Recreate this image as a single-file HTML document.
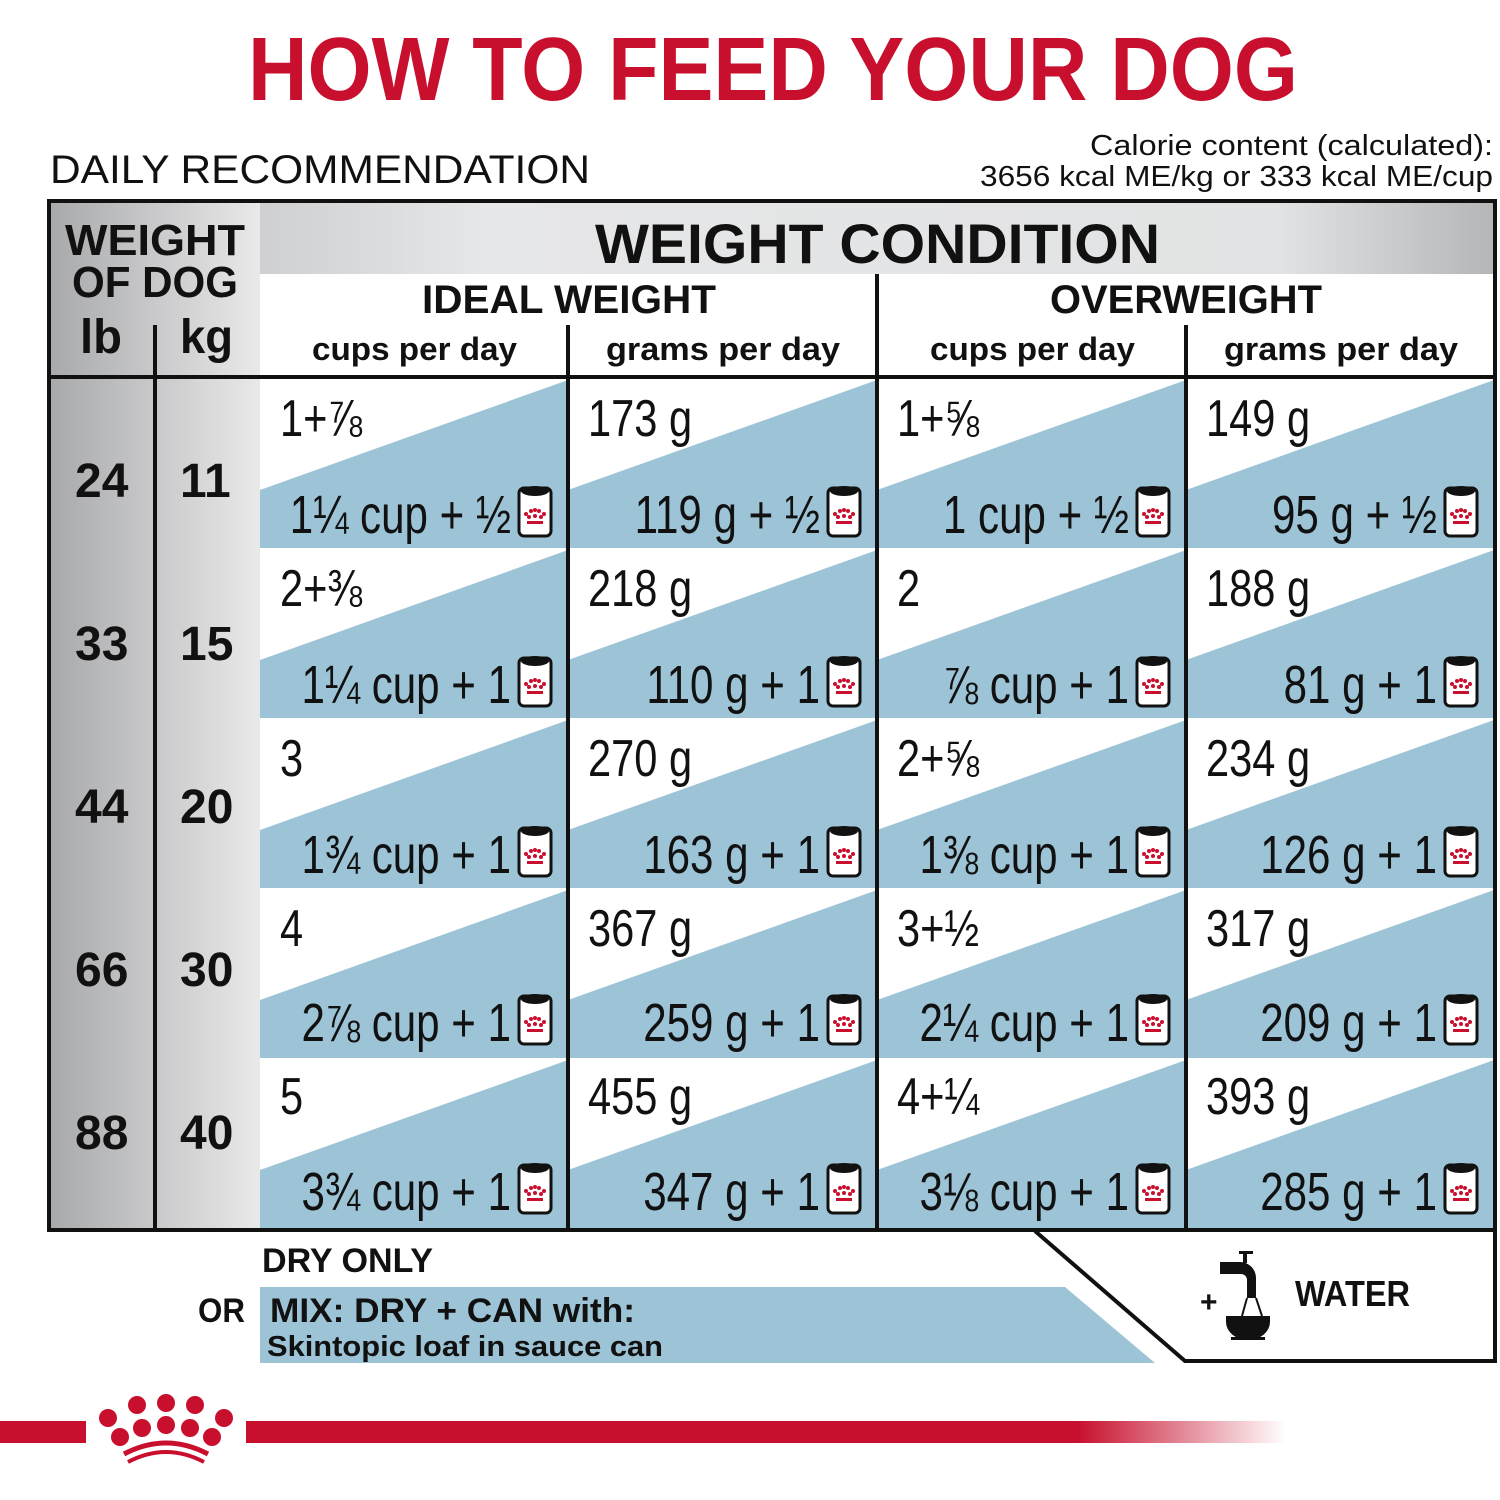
<!DOCTYPE html>
<html><head><meta charset="utf-8"><style>
html,body{margin:0;padding:0;background:#fff}
svg{display:block}
text{font-family:"Liberation Sans","DejaVu Sans",sans-serif}
.b{font-weight:bold}
.c{font-size:54px;fill:#111}
.t{font-size:52px;fill:#111}
</style></head><body>
<svg width="1500" height="1500" viewBox="0 0 1500 1500" xmlns="http://www.w3.org/2000/svg">
<defs>
<linearGradient id="hg" x1="0" x2="1" y1="0" y2="0">
<stop offset="0" stop-color="#b8b9bb"/><stop offset="0.3" stop-color="#e6e7e8"/><stop offset="0.85" stop-color="#e2e3e4"/><stop offset="1" stop-color="#b5b6b8"/></linearGradient>
<linearGradient id="lg" x1="0" x2="1" y1="0" y2="0">
<stop offset="0" stop-color="#a8a9ab"/><stop offset="1" stop-color="#e9e9ea"/></linearGradient>
<linearGradient id="rg" x1="0" x2="1" y1="0" y2="0">
<stop offset="0" stop-color="#c8102e"/><stop offset="0.8" stop-color="#c8102e"/><stop offset="1" stop-color="#c8102e" stop-opacity="0"/></linearGradient>
<g id="can">
<rect x="0" y="4" width="32" height="48" rx="5" fill="#fff" stroke="#111" stroke-width="3"/>
<ellipse cx="16" cy="7" rx="14" ry="5" fill="#111"/>
<g fill="#c8102e"><circle cx="7" cy="30" r="2"/><circle cx="12" cy="27" r="2"/><circle cx="16" cy="26" r="2"/><circle cx="20" cy="27" r="2"/><circle cx="25" cy="30" r="2"/><circle cx="10" cy="33" r="2"/><circle cx="16" cy="32" r="2"/><circle cx="22" cy="33" r="2"/><rect x="8" y="37" width="16" height="3"/></g>
</g>
</defs>

<text x="248" y="100" class="b" font-size="90" fill="#c8102e" textLength="1050" lengthAdjust="spacingAndGlyphs">HOW TO FEED YOUR DOG</text>
<text x="50" y="183" font-size="40" fill="#111" textLength="540" lengthAdjust="spacingAndGlyphs">DAILY RECOMMENDATION</text>
<text x="1493" y="155" font-size="29" fill="#111" text-anchor="end" textLength="403" lengthAdjust="spacingAndGlyphs">Calorie content (calculated):</text>
<text x="1493" y="186" font-size="29" fill="#111" text-anchor="end" textLength="513" lengthAdjust="spacingAndGlyphs">3656 kcal ME/kg or 333 kcal ME/cup</text>

<!-- header backgrounds -->
<rect x="50" y="202" width="1444" height="72" fill="url(#hg)"/>
<rect x="50" y="202" width="210" height="1026" fill="url(#lg)"/>
<rect x="260" y="274" width="1234" height="102" fill="#fff"/>

<text x="595" y="263" class="b" font-size="56" fill="#111" textLength="565" lengthAdjust="spacingAndGlyphs">WEIGHT CONDITION</text>
<text x="65" y="255" class="b" font-size="44" fill="#111" textLength="180" lengthAdjust="spacingAndGlyphs">WEIGHT</text>
<text x="72" y="297" class="b" font-size="44" fill="#111" textLength="166" lengthAdjust="spacingAndGlyphs">OF DOG</text>
<text x="80" y="353" class="b" font-size="48" fill="#111" textLength="42" lengthAdjust="spacingAndGlyphs">lb</text>
<text x="180" y="353" class="b" font-size="48" fill="#111" textLength="53" lengthAdjust="spacingAndGlyphs">kg</text>
<text x="422" y="313" class="b" font-size="40" fill="#111" textLength="294" lengthAdjust="spacingAndGlyphs">IDEAL WEIGHT</text>
<text x="1050" y="313" class="b" font-size="40" fill="#111" textLength="272" lengthAdjust="spacingAndGlyphs">OVERWEIGHT</text>
<text x="312" y="360" class="b" font-size="32" fill="#111" textLength="205" lengthAdjust="spacingAndGlyphs">cups per day</text>
<text x="606" y="360" class="b" font-size="32" fill="#111" textLength="234" lengthAdjust="spacingAndGlyphs">grams per day</text>
<text x="930" y="360" class="b" font-size="32" fill="#111" textLength="205" lengthAdjust="spacingAndGlyphs">cups per day</text>
<text x="1224" y="360" class="b" font-size="32" fill="#111" textLength="234" lengthAdjust="spacingAndGlyphs">grams per day</text>

<!-- blue triangles -->
<g fill="#9dc4d6">
<polygon points="260,490 568,380 568,548 260,548"/><polygon points="568,490 877,380 877,548 568,548"/><polygon points="877,490 1186,380 1186,548 877,548"/><polygon points="1186,490 1494,380 1494,548 1186,548"/>
<polygon points="260,660 568,550 568,718 260,718"/><polygon points="568,660 877,550 877,718 568,718"/><polygon points="877,660 1186,550 1186,718 877,718"/><polygon points="1186,660 1494,550 1494,718 1186,718"/>
<polygon points="260,830 568,720 568,888 260,888"/><polygon points="568,830 877,720 877,888 568,888"/><polygon points="877,830 1186,720 1186,888 877,888"/><polygon points="1186,830 1494,720 1494,888 1186,888"/>
<polygon points="260,1000 568,890 568,1058 260,1058"/><polygon points="568,1000 877,890 877,1058 568,1058"/><polygon points="877,1000 1186,890 1186,1058 877,1058"/><polygon points="1186,1000 1494,890 1494,1058 1186,1058"/>
<polygon points="260,1170 568,1060 568,1228 260,1228"/><polygon points="568,1170 877,1060 877,1228 568,1228"/><polygon points="877,1170 1186,1060 1186,1228 877,1228"/><polygon points="1186,1170 1494,1060 1494,1228 1186,1228"/>
</g>

<!-- lines -->
<g stroke="#111" fill="none">
<rect x="49" y="201" width="1446" height="1029" stroke-width="4"/>
<line x1="50" y1="377" x2="1494" y2="377" stroke-width="4"/>
<line x1="155" y1="325" x2="155" y2="1228" stroke-width="4"/>
<line x1="877" y1="274" x2="877" y2="1228" stroke-width="4"/>
<line x1="568" y1="325" x2="568" y2="1228" stroke-width="4"/>
<line x1="1186" y1="325" x2="1186" y2="1228" stroke-width="4"/>
<polyline points="1035,1231 1185,1361 1495,1361 1495,1228" stroke-width="4"/>
</g>

<!-- weights -->
<g class="b" font-size="48" fill="#111">
<text x="75" y="497">24</text><text x="180" y="497">11</text>
<text x="75" y="660">33</text><text x="180" y="660">15</text>
<text x="75" y="823">44</text><text x="180" y="823">20</text>
<text x="75" y="986">66</text><text x="180" y="986">30</text>
<text x="75" y="1149">88</text><text x="180" y="1149">40</text>
</g>

<!-- cell texts -->
<g class="t">
<text transform="translate(280,436) scale(0.8,1)">1+⅞</text>
<text transform="translate(588,436) scale(0.8,1)">173 g</text>
<text transform="translate(897,436) scale(0.8,1)">1+⅝</text>
<text transform="translate(1206,436) scale(0.8,1)">149 g</text>
<text transform="translate(280,606) scale(0.8,1)">2+⅜</text>
<text transform="translate(588,606) scale(0.8,1)">218 g</text>
<text transform="translate(897,606) scale(0.8,1)">2</text>
<text transform="translate(1206,606) scale(0.8,1)">188 g</text>
<text transform="translate(280,776) scale(0.8,1)">3</text>
<text transform="translate(588,776) scale(0.8,1)">270 g</text>
<text transform="translate(897,776) scale(0.8,1)">2+⅝</text>
<text transform="translate(1206,776) scale(0.8,1)">234 g</text>
<text transform="translate(280,946) scale(0.8,1)">4</text>
<text transform="translate(588,946) scale(0.8,1)">367 g</text>
<text transform="translate(897,946) scale(0.8,1)">3+½</text>
<text transform="translate(1206,946) scale(0.8,1)">317 g</text>
<text transform="translate(280,1114) scale(0.8,1)">5</text>
<text transform="translate(588,1114) scale(0.8,1)">455 g</text>
<text transform="translate(897,1114) scale(0.8,1)">4+¼</text>
<text transform="translate(1206,1114) scale(0.8,1)">393 g</text>
</g>
<g class="c" text-anchor="end">
<text transform="translate(511,533) scale(0.78,1)">1¼ cup + ½</text>
<text transform="translate(820,533) scale(0.78,1)">119 g + ½</text>
<text transform="translate(1129,533) scale(0.78,1)">1 cup + ½</text>
<text transform="translate(1437,533) scale(0.78,1)">95 g + ½</text>
<text transform="translate(511,703) scale(0.78,1)">1¼ cup + 1</text>
<text transform="translate(820,703) scale(0.78,1)">110 g + 1</text>
<text transform="translate(1129,703) scale(0.78,1)">⅞ cup + 1</text>
<text transform="translate(1437,703) scale(0.78,1)">81 g + 1</text>
<text transform="translate(511,873) scale(0.78,1)">1¾ cup + 1</text>
<text transform="translate(820,873) scale(0.78,1)">163 g + 1</text>
<text transform="translate(1129,873) scale(0.78,1)">1⅜ cup + 1</text>
<text transform="translate(1437,873) scale(0.78,1)">126 g + 1</text>
<text transform="translate(511,1041) scale(0.78,1)">2⅞ cup + 1</text>
<text transform="translate(820,1041) scale(0.78,1)">259 g + 1</text>
<text transform="translate(1129,1041) scale(0.78,1)">2¼ cup + 1</text>
<text transform="translate(1437,1041) scale(0.78,1)">209 g + 1</text>
<text transform="translate(511,1210) scale(0.78,1)">3¾ cup + 1</text>
<text transform="translate(820,1210) scale(0.78,1)">347 g + 1</text>
<text transform="translate(1129,1210) scale(0.78,1)">3⅛ cup + 1</text>
<text transform="translate(1437,1210) scale(0.78,1)">285 g + 1</text>
</g>
<g>
<use href="#can" x="519" y="484"/><use href="#can" x="828" y="484"/><use href="#can" x="1137" y="484"/><use href="#can" x="1445" y="484"/>
<use href="#can" x="519" y="654"/><use href="#can" x="828" y="654"/><use href="#can" x="1137" y="654"/><use href="#can" x="1445" y="654"/>
<use href="#can" x="519" y="824"/><use href="#can" x="828" y="824"/><use href="#can" x="1137" y="824"/><use href="#can" x="1445" y="824"/>
<use href="#can" x="519" y="992"/><use href="#can" x="828" y="992"/><use href="#can" x="1137" y="992"/><use href="#can" x="1445" y="992"/>
<use href="#can" x="519" y="1161"/><use href="#can" x="828" y="1161"/><use href="#can" x="1137" y="1161"/><use href="#can" x="1445" y="1161"/>
</g>

<!-- bottom -->
<polygon points="260,1287 1065,1287 1155,1363 260,1363" fill="#9dc4d6"/>
<text x="262" y="1272" class="b" font-size="34" fill="#111" textLength="171" lengthAdjust="spacingAndGlyphs">DRY ONLY</text>
<text x="198" y="1322" class="b" font-size="34" fill="#111" textLength="47" lengthAdjust="spacingAndGlyphs">OR</text>
<text x="270" y="1322" class="b" font-size="34" fill="#111" textLength="365" lengthAdjust="spacingAndGlyphs">MIX: DRY + CAN with:</text>
<text x="267" y="1356" class="b" font-size="29" fill="#111" textLength="396" lengthAdjust="spacingAndGlyphs">Skintopic loaf in sauce can</text>
<text x="1200" y="1312" class="b" font-size="30" fill="#111">+</text>
<g fill="#111">
<rect x="1239" y="1251" width="14" height="3"/><rect x="1243" y="1253" width="4" height="10"/>
<path d="M1220 1262 h20 a16 16 0 0 1 16 16 v20 h-9 v-18 a6 6 0 0 0 -6 -6 h-21 z"/>
<path d="M1226 1316 h44 v6 a22 18 0 0 1 -44 0 z"/>
<rect x="1231" y="1337" width="34" height="3"/>
<line x1="1247" y1="1298" x2="1242" y2="1316" stroke="#111" stroke-width="2"/><line x1="1256" y1="1298" x2="1262" y2="1316" stroke="#111" stroke-width="2"/>
</g>
<text x="1295" y="1306" class="b" font-size="36" fill="#111" textLength="115" lengthAdjust="spacingAndGlyphs">WATER</text>

<!-- footer -->
<rect x="0" y="1421" width="86" height="22" fill="#c8102e"/>
<rect x="246" y="1421" width="1040" height="22" fill="url(#rg)"/>
<g fill="#c8102e">
<circle cx="137" cy="1405" r="9"/><circle cx="166" cy="1403" r="9"/><circle cx="195" cy="1405" r="9"/>
<circle cx="108" cy="1418" r="9"/><circle cx="224" cy="1418" r="9"/>
<circle cx="120" cy="1437" r="9"/><circle cx="142" cy="1428" r="9"/><circle cx="166" cy="1425" r="9"/><circle cx="190" cy="1428" r="9"/><circle cx="212" cy="1437" r="9"/>
</g>
<path d="M124 1454 Q166 1432 208 1454" stroke="#c8102e" stroke-width="5" fill="none"/>
<path d="M128 1462 Q166 1442 204 1462" stroke="#c8102e" stroke-width="4" fill="none"/>
</svg>
</body></html>
